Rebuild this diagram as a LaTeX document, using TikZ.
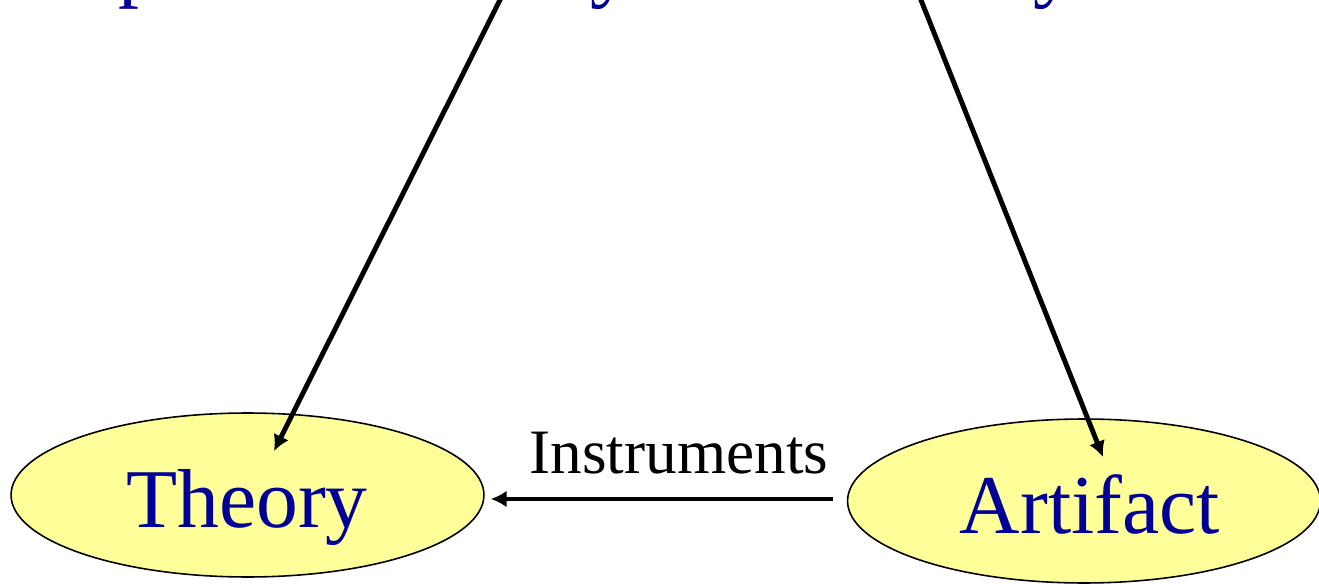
\documentclass[tikz,border=0pt]{standalone}
\usepackage{fontspec}
\setmainfont{Liberation Serif}
\usetikzlibrary{shapes.geometric,arrows.meta,calc}
\definecolor{tblue}{RGB}{0,0,153}
\definecolor{ovalfill}{RGB}{255,255,153}
\tikzset{
  oval/.style={ellipse, draw=black, line width=0.9pt, fill=ovalfill,
    minimum width=9.46cm, minimum height=3.28cm, inner sep=0pt},
  bigtxt/.style={text=tblue, inner sep=0pt, font=\fontsize{47.6}{50}\selectfont},
  midtxt/.style={text=black, inner sep=0pt, font=\fontsize{36}{40}\selectfont},
  arr/.style={draw=black, line width=2.8pt, -{Latex[length=9pt,width=9.5pt]}}
}
\begin{document}
\begin{tikzpicture}[x=0.02cm,y=-0.02cm]
\useasboundingbox (0,0) rectangle (1319,584);
\clip (0,0) rectangle (1319,584);
% clipped title text (only descenders visible)
\node[bigtxt, anchor=base west] (p1) at (118,-8) {p};
\node[bigtxt, anchor=base west] (y1) at (590,-8) {y};
\node[bigtxt, anchor=base west] (y2) at (1033,-8) {y};
% ovals
\node[oval] (th) at (247.5,495) {};
\node[oval] (ar) at (1084,501) {};
\node[bigtxt, anchor=base] (thl) at (247,527) {Theory};
\node[bigtxt, anchor=base] (arl) at (1090,533) {Artifact};
% arrows
\coordinate (s1) at (505,-10);
\coordinate (e1) at (274,451);
\coordinate (s2) at (917,-10);
\coordinate (e2) at (1103,457);
\draw[arr] (s1) -- (e1);
\draw[arr] (s2) -- (e2);
\draw[arr] ($(ar.west)+(-14,-2)$) -- ($(th.east)+(6,4)$);
\node[midtxt, anchor=base] (ins) at (679,473) {Instruments};
\end{tikzpicture}
\end{document}
